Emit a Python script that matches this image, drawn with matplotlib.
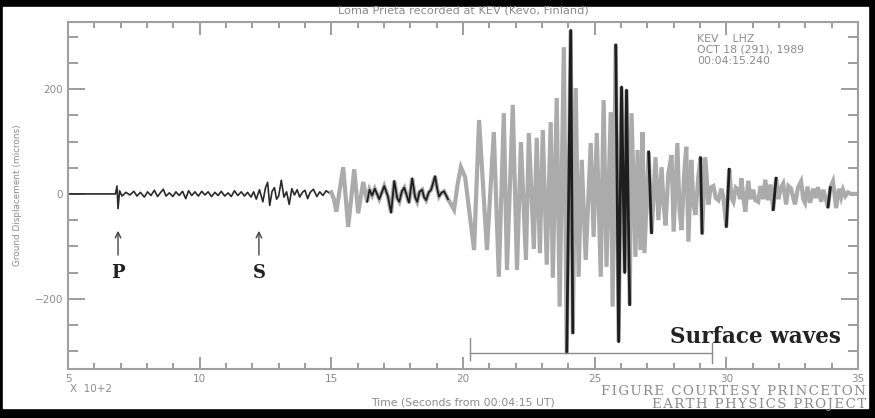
import matplotlib.pyplot as plt
from matplotlib.patches import Rectangle
from matplotlib.ticker import MultipleLocator

# Seismogram picked by hand from the record: peak / trough positions.
# time is in units of 100 s, displacement in microns.

# quiet part with the P and S arrivals
t_pre = [5.0, 6.80, 6.86, 6.90, 6.96, 7.05, 7.20, 7.35, 7.50, 7.62, 7.75, 7.90,
         8.02, 8.15, 8.28, 8.40, 8.52, 8.62, 8.72, 8.85, 8.98, 9.10, 9.22, 9.35,
         9.47, 9.58, 9.70, 9.82, 9.95, 10.08, 10.20, 10.32, 10.45, 10.58, 10.70,
         10.82, 10.95, 11.08, 11.20, 11.32, 11.45, 11.58, 11.70, 11.82, 11.95,
         12.05, 12.15, 12.27, 12.40, 12.50, 12.58, 12.66, 12.75, 12.84, 12.92,
         13.00, 13.10, 13.20, 13.30, 13.40, 13.50, 13.60, 13.70, 13.80, 13.90,
         14.00, 14.10, 14.20, 14.32, 14.45, 14.56, 14.68, 14.80, 14.92, 15.0]
d_pre = [0, 0, 15, -28, 6, -4, 3, -2, 5, -4, 3, -6,
         4, -3, 7, -5, 3, 9, -4, 2, -5, 4, -3, 5,
         -9, 6, -3, 4, -4, 5, -2, 4, -5, 3, -3,
         5, -4, 2, -5, 6, -3, 4, -4, 3, -6,
         4, -10, 8, -15, 12, 22, -22, 5, 12, -10,
         -4, 26, -6, 4, -20, 10, -2, 8, -6, 3,
         7, -9, 3, 9, -5, 4, -3, 6, 2, 3]

# longer-period body waves before the surface waves
t_body = [15.0, 15.10, 15.19, 15.45, 15.64, 15.87, 16.02, 16.21, 16.36, 16.45,
          16.55, 16.65, 16.82, 17.01, 17.15, 17.27, 17.39, 17.50, 17.58, 17.68,
          17.77, 17.87, 17.95, 18.07, 18.18, 18.26, 18.35, 18.45, 18.52, 18.60,
          18.70, 18.79, 18.94, 19.02, 19.09, 19.18, 19.28, 19.43, 19.55, 19.66,
          19.80, 19.92, 20.08]
d_body = [3, -10, -34, 51, -63, 47, -37, 23, -15, 8,
          -3, 10, -10, 15, -5, -36, 25, -8, -15, 5,
          12, -4, -17, 30, -6, -15, 4, 8, -6, -12,
          3, 8, 34, 10, -5, 2, 5, -10, -20, -30,
          20, 51, 32]

# surface waves
t_surf = [20.42, 20.61, 20.91, 21.17, 21.36, 21.55, 21.67, 21.89, 22.05, 22.20,
          22.39, 22.50, 22.69, 22.80, 22.92, 23.03, 23.18, 23.33, 23.41, 23.56,
          23.67, 23.83, 23.94, 24.09, 24.17, 24.28, 24.39, 24.51, 24.66, 24.85,
          24.96, 25.08, 25.23, 25.34, 25.45, 25.61, 25.68, 25.80, 25.91, 26.02,
          26.14, 26.21, 26.33, 26.40, 26.55, 26.63, 26.74, 26.82, 26.89]
d_surf = [-107, 141, -107, 118, -158, 154, -145, 170, -145, 99,
          -126, 116, -105, 107, -113, 122, -135, 137, -160, 183,
          -215, 280, -303, 312, -265, 202, -158, 65, -126, 97,
          -82, 116, -158, 179, -139, 156, -215, 284, -282, 204,
          -150, 198, -211, 154, -120, 84, -107, 118, -113]

# coda
t_coda = [27.05, 27.16, 27.31, 27.42, 27.54, 27.62, 27.69, 27.80, 27.92, 28.00,
          28.14, 28.22, 28.30, 28.40, 28.48, 28.56, 28.67, 28.75, 28.83, 28.93,
          29.02, 29.08, 29.20, 29.32, 29.40, 29.51, 29.60, 29.70, 29.81, 29.88,
          30.00, 30.11, 30.20, 30.27, 30.36, 30.45, 30.52, 30.57, 30.65, 30.72,
          30.83, 30.92, 31.02, 31.10, 31.21, 31.30, 31.40, 31.48, 31.58, 31.68,
          31.78, 31.89, 31.98, 32.07, 32.16, 32.27, 32.36, 32.46, 32.54, 32.61,
          32.72, 32.84, 32.92, 32.99, 33.08, 33.18, 33.30, 33.39, 33.48, 33.60,
          33.68, 33.78, 33.86, 33.95, 34.05, 34.17, 34.28, 34.36, 34.43, 34.52,
          34.62, 34.73, 35.0]
d_coda = [80, -74, 70, -50, 51, -20, -60, 40, 74, -72,
          97, -30, -69, 40, 90, -91, 65, -20, -40, 30,
          69, -75, 70, -20, 12, 15, -8, -12, 10, -5,
          -62, 47, -8, -15, 12, 8, -10, 30, -8, -34,
          25, -10, 8, -12, -15, 15, -10, 27, -12, 18,
          -30, 30, -10, 12, 20, -20, 15, 10, -8, -20,
          12, 24, -10, -17, 14, -17, 10, -8, 13, -15,
          8, -10, -25, 12, 24, -27, 10, -6, 8, -4,
          3, 0, 0]

t_main = t_body + t_surf + t_coda
d_main = d_body + d_surf + d_coda

# stretches of the trace that print dark in the original scan
dark_windows = [(16.3, 19.5), (23.9, 24.2), (25.75, 26.35), (27.0, 27.2),
                (28.1, 28.2), (28.95, 29.1), (29.98, 30.12), (30.68, 30.76),
                (31.75, 31.9), (33.84, 33.97)]

fig = plt.figure(figsize=(8.75, 4.18), dpi=100, facecolor='black')
fig.add_artist(Rectangle((3 / 875, 10 / 418), 865 / 875, 401 / 418,
                         transform=fig.transFigure, color='white', zorder=0))
ax = fig.add_axes([68 / 875, 1 - 369 / 418, 790 / 875, 347 / 418])

grey = '#8c8c8c'
ax.plot(t_pre, d_pre, color='#2a2a2a', lw=1.2)
ax.plot(t_main, d_main, color='#ababab', lw=3.0, solid_joinstyle='miter')
for lo, hi in dark_windows:
    idx = [i for i, t in enumerate(t_main) if lo <= t <= hi]
    ax.plot([t_main[i] for i in idx], [d_main[i] for i in idx],
            color='#1e1e1e', lw=1.3 if lo < 20 else 2.0)

ax.set_xlim(5, 35)
ax.set_ylim(-334, 328)
ax.xaxis.set_major_locator(MultipleLocator(5))
ax.xaxis.set_minor_locator(MultipleLocator(1))
ax.yaxis.set_major_locator(MultipleLocator(200))
ax.yaxis.set_minor_locator(MultipleLocator(50))
ax.tick_params(which='both', direction='in', top=True, right=True,
               color=grey, labelcolor=grey, labelsize=7.5, width=1.2)
ax.tick_params(axis='y', which='major', length=12)
ax.tick_params(axis='y', which='minor', length=7)
ax.tick_params(axis='x', which='major', length=9)
ax.tick_params(axis='x', which='minor', length=4)
for s in ax.spines.values():
    s.set_color('#a0a0a0')
    s.set_linewidth(1.5)

ax.set_title('Loma Prieta recorded at KEV (Kevo, Finland)', fontsize=8.2,
             color=grey, pad=6)
ax.set_ylabel('Ground Displacement (microns)', fontsize=6.4, color=grey,
              labelpad=9)
ax.set_xlabel('Time (Seconds from 00:04:15 UT)', fontsize=7.8, color=grey,
              labelpad=10)
ax.text(0.796, 0.965, 'KEV    LHZ\nOCT 18 (291), 1989\n00:04:15.240',
        transform=ax.transAxes, ha='left', va='top', fontsize=7.8,
        color=grey, linespacing=1.1)

# P and S arrivals
for t0, lab in [(6.9, 'P'), (12.25, 'S')]:
    ax.annotate('', xy=(t0, -65), xytext=(t0, -122),
                arrowprops=dict(arrowstyle='->', color='#444444', lw=1))
    ax.text(t0, -150, lab, ha='center', va='center', fontsize=13,
            fontweight='bold', family='DejaVu Serif', color='#222222')

# surface wave bracket
ax.plot([20.27, 29.46], [-303, -303], color=grey, lw=1)
ax.plot([20.27, 20.27], [-274, -316], color=grey, lw=1)
ax.plot([29.46, 29.46], [-284, -322], color=grey, lw=1)
ax.text(31.1, -272, 'Surface waves', ha='center', va='center', fontsize=15.5,
        fontweight='bold', family='DejaVu Serif', color='#222222')

fig.text(70 / 875, 1 - 389 / 418, 'X  10+2', fontsize=7.5, color=grey,
         va='center')
credit = ('\u200a'.join('FIGURE COURTESY PRINCETON') + '\n'
          + '\u200a'.join('EARTH PHYSICS PROJECT'))
fig.text(866 / 875, 1 - 398 / 418, credit, ha='right', va='center',
         multialignment='right', fontsize=9.6, family='DejaVu Serif',
         color=grey, linespacing=0.95)

plt.savefig('out.png', dpi=100, facecolor='black')
